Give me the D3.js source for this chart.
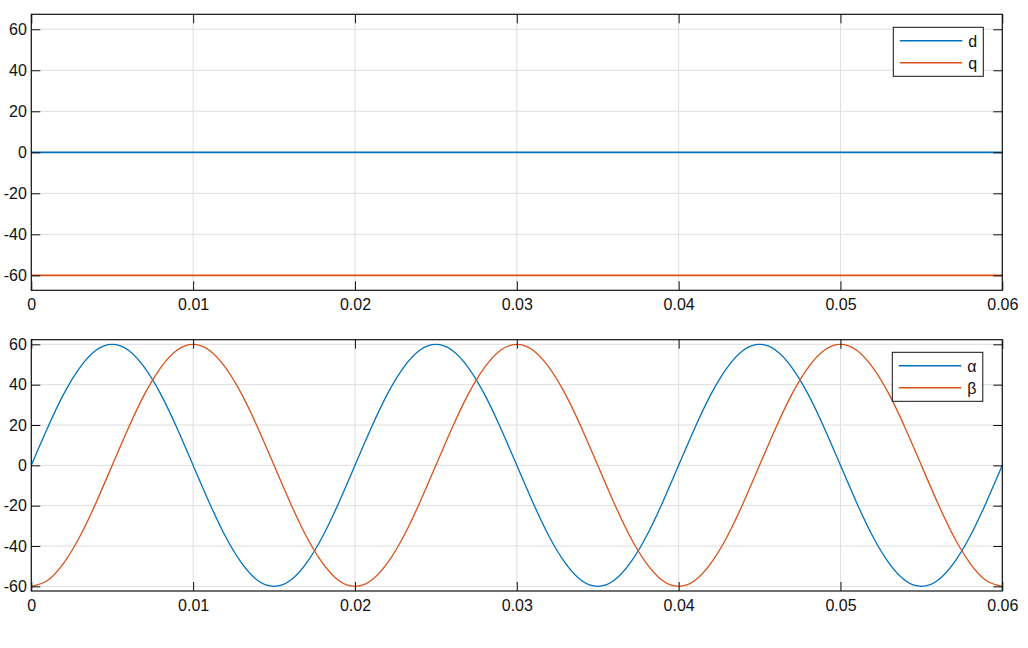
<!DOCTYPE html>
<html>
<head>
<meta charset="utf-8">
<script src="https://cdn.jsdelivr.net/npm/d3@7"></script>
<style>
  body { margin: 0; background: #fff; }
  svg text { font-family: "Liberation Sans", Arial, sans-serif; font-size: 16px; fill: #111; }
</style>
</head>
<body>
<svg id="chart"></svg>
<script>
///////////////////////////////////////////
// Data
var xTicks = [0, 0.01, 0.02, 0.03, 0.04, 0.05, 0.06];
var yTicks = [-60, -40, -20, 0, 20, 40, 60];

// top panel: d / q
var timeDQ = [0, 0.06];
var dValues = [0, 0];
var qValues = [-60, -60];

// bottom panel: alpha / beta, sampled every 1 ms
var timeAB = [0, 0.001, 0.002, 0.003, 0.004, 0.005, 0.006, 0.007, 0.008, 0.009,
  0.010, 0.011, 0.012, 0.013, 0.014, 0.015, 0.016, 0.017, 0.018, 0.019,
  0.020, 0.021, 0.022, 0.023, 0.024, 0.025, 0.026, 0.027, 0.028, 0.029,
  0.030, 0.031, 0.032, 0.033, 0.034, 0.035, 0.036, 0.037, 0.038, 0.039,
  0.040, 0.041, 0.042, 0.043, 0.044, 0.045, 0.046, 0.047, 0.048, 0.049,
  0.050, 0.051, 0.052, 0.053, 0.054, 0.055, 0.056, 0.057, 0.058, 0.059, 0.060];
var alphaValues = [0, 18.5, 35.3, 48.5, 57.1, 60, 57.1, 48.5, 35.3, 18.5,
  0, -18.5, -35.3, -48.5, -57.1, -60, -57.1, -48.5, -35.3, -18.5,
  0, 18.5, 35.3, 48.5, 57.1, 60, 57.1, 48.5, 35.3, 18.5,
  0, -18.5, -35.3, -48.5, -57.1, -60, -57.1, -48.5, -35.3, -18.5,
  0, 18.5, 35.3, 48.5, 57.1, 60, 57.1, 48.5, 35.3, 18.5,
  0, -18.5, -35.3, -48.5, -57.1, -60, -57.1, -48.5, -35.3, -18.5, 0];
var betaValues = [-60, -57.1, -48.5, -35.3, -18.5, 0, 18.5, 35.3, 48.5, 57.1,
  60, 57.1, 48.5, 35.3, 18.5, 0, -18.5, -35.3, -48.5, -57.1,
  -60, -57.1, -48.5, -35.3, -18.5, 0, 18.5, 35.3, 48.5, 57.1,
  60, 57.1, 48.5, 35.3, 18.5, 0, -18.5, -35.3, -48.5, -57.1,
  -60, -57.1, -48.5, -35.3, -18.5, 0, 18.5, 35.3, 48.5, 57.1,
  60, 57.1, 48.5, 35.3, 18.5, 0, -18.5, -35.3, -48.5, -57.1, -60];

var blue = "#0072BD", orange = "#D95319";

///////////////////////////////////////////
// Layout
var svgWidth = 1028, svgHeight = 648;
var svg = d3.select("#chart").attr("width", svgWidth).attr("height", svgHeight);

var panels = [
  { top: 14.3, bottom: 290.3, ylim: [-67.3, 67.3],
    series: [{ x: timeDQ, y: dValues, color: blue, name: "d" },
             { x: timeDQ, y: qValues, color: orange, name: "q" }],
    legend: { x: 893.3, y: 27.3, w: 90, h: 49 }, lineW: 1.8, curve: d3.curveLinear },
  { top: 339.7, bottom: 591, ylim: [-62.3, 62.3],
    series: [{ x: timeAB, y: alphaValues, color: blue, name: "α" },
             { x: timeAB, y: betaValues, color: orange, name: "β" }],
    legend: { x: 892.3, y: 352.3, w: 90.5, h: 49 }, lineW: 1.3, curve: d3.curveNatural }
];
var left = 31.3, right = 1002.3;

panels.forEach(function(p) {
  var x = d3.scaleLinear().domain([0, 0.06]).range([left, right]);
  var y = d3.scaleLinear().domain(p.ylim).range([p.bottom, p.top]);
  var g = svg.append("g");

  // grid
  g.selectAll(".gx").data(xTicks).enter().append("line")
    .attr("x1", d => x(d)).attr("x2", d => x(d))
    .attr("y1", p.top).attr("y2", p.bottom)
    .attr("stroke", "#dedede").attr("stroke-width", 1);
  g.selectAll(".gy").data(yTicks).enter().append("line")
    .attr("x1", left).attr("x2", right)
    .attr("y1", d => y(d)).attr("y2", d => y(d))
    .attr("stroke", "#dedede").attr("stroke-width", 1);

  // lines
  p.series.forEach(function(s) {
    var pts = s.x.map((t, i) => [t, s.y[i]]);
    g.append("path").datum(pts)
      .attr("fill", "none").attr("stroke", s.color).attr("stroke-width", p.lineW)
      .attr("d", d3.line().x(d => x(d[0])).y(d => y(d[1])).curve(p.curve));
  });

  // axes (inward ticks, mirrored box)
  var tk = 9;
  g.append("g").attr("transform", "translate(0," + p.bottom + ")")
    .call(d3.axisBottom(x).tickValues(xTicks).tickSizeInner(-tk).tickSizeOuter(0).tickPadding(8.5)
      .tickFormat(d => d === 0 ? "0" : d3.format(".2f")(d)));
  g.append("g").attr("transform", "translate(0," + p.top + ")")
    .call(d3.axisTop(x).tickValues(xTicks).tickSizeInner(-tk).tickSizeOuter(0).tickFormat(""));
  g.append("g").attr("transform", "translate(" + left + ",0)")
    .call(d3.axisLeft(y).tickValues(yTicks).tickSizeInner(-tk).tickSizeOuter(0).tickPadding(4.5)
      .tickFormat(d => String(d)));
  g.append("g").attr("transform", "translate(" + right + ",0)")
    .call(d3.axisRight(y).tickValues(yTicks).tickSizeInner(-tk).tickSizeOuter(0).tickFormat(""));
  g.selectAll(".domain").remove();
  g.selectAll(".tick line").attr("stroke", "#111");
  g.selectAll(".tick text").style("font-size", "16px").style("font-family", "Liberation Sans, Arial, sans-serif").attr("fill", "#111");

  g.append("rect").attr("x", left).attr("y", p.top)
    .attr("width", right - left).attr("height", p.bottom - p.top)
    .attr("fill", "none").attr("stroke", "#111").attr("stroke-width", 1.2);

  // legend
  var L = p.legend;
  var lg = g.append("g");
  lg.append("rect").attr("x", L.x).attr("y", L.y).attr("width", L.w).attr("height", L.h)
    .attr("fill", "#fff").attr("stroke", "#111").attr("stroke-width", 1);
  p.series.forEach(function(s, i) {
    var yy = L.y + 13.5 + i * 22;
    lg.append("line").attr("x1", L.x + 6.5).attr("x2", L.x + 69)
      .attr("y1", yy).attr("y2", yy).attr("stroke", s.color).attr("stroke-width", 1.5);
    lg.append("text").attr("x", L.x + 75).attr("y", yy + 6).text(s.name);
  });
});
</script>
</body>
</html>
